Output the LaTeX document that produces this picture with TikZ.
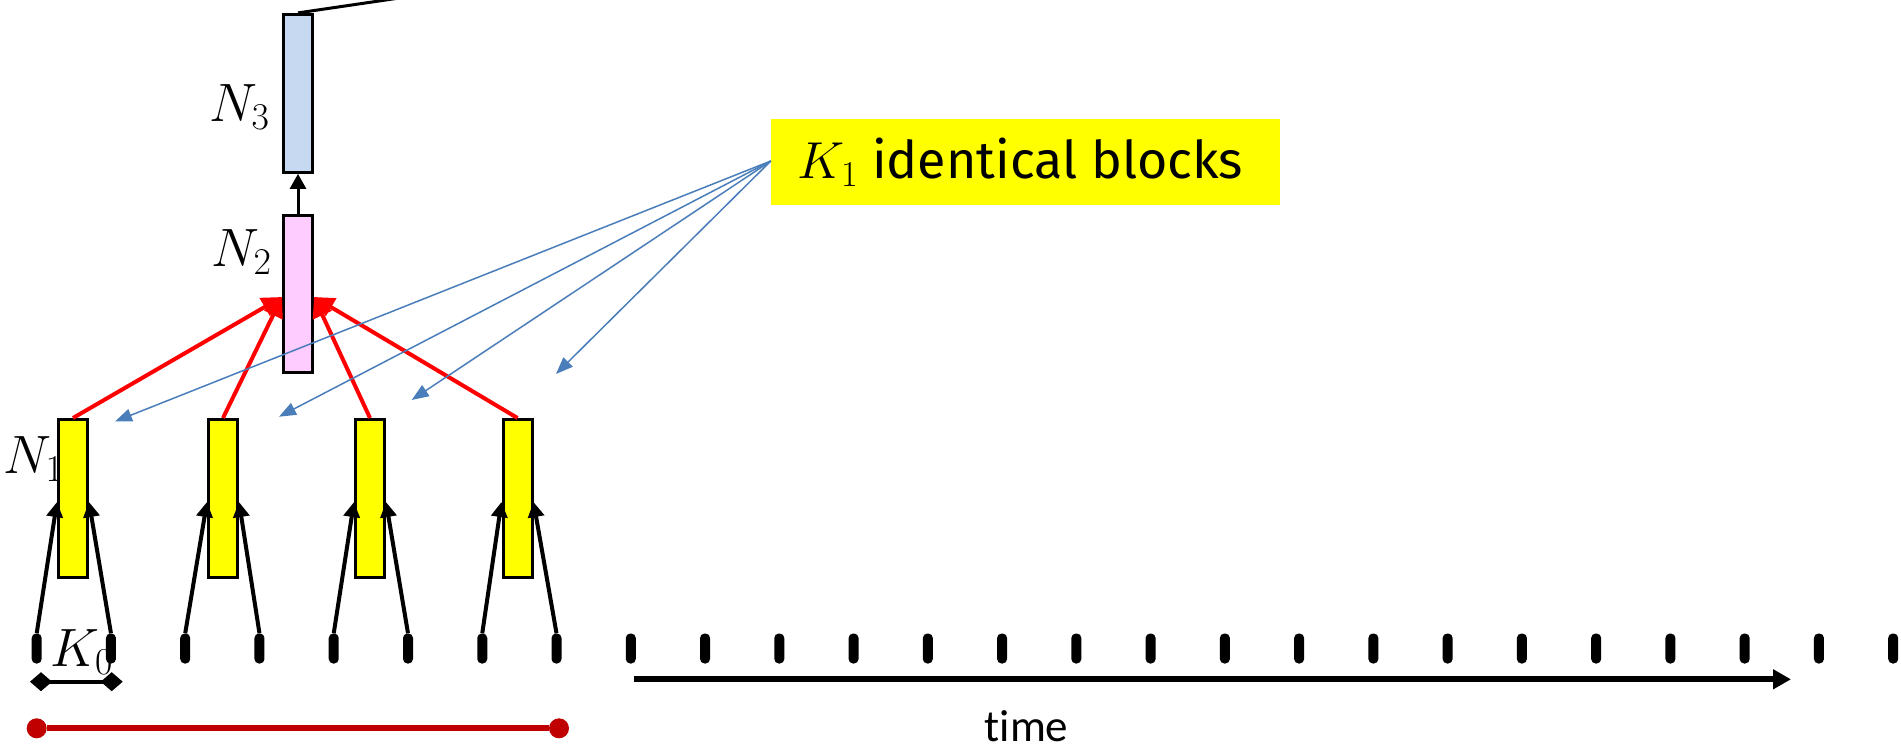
\documentclass[tikz,border=0pt]{standalone}
\usepackage{fix-cm}
\usepackage{fontspec}
\newfontfamily\labfont{Fira Sans}
\newfontfamily\timefont[Ligatures=NoCommon]{Carlito}
\usetikzlibrary{arrows.meta,calc}
\definecolor{blockyellow}{HTML}{FFFF00}
\definecolor{pinkfill}{HTML}{FFCCFF}
\definecolor{bluefill}{HTML}{C6D9F1}
\definecolor{arrowblue}{HTML}{4A7EBB}
\definecolor{darkred}{HTML}{C00000}
\definecolor{brightred}{HTML}{FF0000}
\tikzset{
  blockbox/.style={draw=black, line width=3pt, minimum width=29pt, minimum height=158pt, inner sep=0pt},
  tickmark/.style={fill=black, rounded corners=4.5pt, minimum width=10pt, minimum height=30pt, inner sep=0pt},
  mathlab/.style={inner sep=0pt, anchor=base west, font=\fontsize{54}{64}\selectfont},
  redarrow/.style={draw=brightred, line width=4pt, -{Triangle[length=20pt,width=20pt]}},
  blackarrow/.style={draw=black, line width=4pt, -{Triangle[length=15pt,width=16pt]}},
  bluearrow/.style={draw=arrowblue, line width=1.5pt, -{Triangle[length=17pt,width=13pt]}},
  reddot/.style={circle, fill=darkred, minimum size=20pt, inner sep=0pt},
}
\begin{document}
\begin{tikzpicture}[x=1pt,y=-1pt]
\clip (0,0) rectangle (1901,752);
\fill[white] (0,0) rectangle (1901,752);

% upper blocks
\node[blockbox, fill=bluefill] (N3) at (298,93.4) {};
\node[blockbox, fill=pinkfill, minimum height=157pt] (N2) at (298,294) {};
\node[mathlab] (l3) at (209,121.7) {$N_3$};
\node[mathlab] (l2) at (211,266.7) {$N_2$};

% outgoing line from N3
\coordinate (out) at (430,-6.5);
\draw[line width=3pt] (N3.north) -- (out);
\draw[line width=3pt, -{Triangle[length=15pt,width=16pt]}] (N2.north) -- (N3.south);

% first-level blocks
\node[blockbox, fill=blockyellow] (b1) at (73,498.5) {};
\node[blockbox, fill=blockyellow] (b2) at (223,498.5) {};
\node[blockbox, fill=blockyellow] (b3) at (370,498.5) {};
\node[blockbox, fill=blockyellow] (b4) at (517.5,498.5) {};
\node[mathlab] (l1) at (3,473) {$N_1$};

% ticks
\foreach \i in {0,...,25}
  \node[tickmark] (t\i) at ({36.7+74.26*\i},648.5) {};

% black input arrows
\draw[blackarrow] (t0.north) -- ([yshift=-3.5pt]b1.west);
\draw[blackarrow] (t1.north) -- ([yshift=-3.5pt]b1.east);
\draw[blackarrow] (t2.north) -- ([yshift=-3.5pt]b2.west);
\draw[blackarrow] (t3.north) -- ([yshift=-3.5pt]b2.east);
\draw[blackarrow] (t4.north) -- ([yshift=-3.5pt]b3.west);
\draw[blackarrow] (t5.north) -- ([yshift=-3.5pt]b3.east);
\draw[blackarrow] (t6.north) -- ([yshift=-3.5pt]b4.west);
\draw[blackarrow] (t7.north) -- ([yshift=-3.5pt]b4.east);

% red arrows to N2
\draw[redarrow] (b1.north) -- ([yshift=-3pt]N2.west);
\draw[redarrow] (b2.north) -- ([yshift=-3pt]N2.west);
\draw[redarrow] (b3.north) -- ([yshift=-3pt]N2.east);
\draw[redarrow] (b4.north) -- ([yshift=-3pt]N2.east);

% K0 span
\coordinate (k0a) at (30,681.7);
\coordinate (k0b) at (122.7,681.7);
\draw[line width=4pt, {Diamond[length=22pt,width=19pt]}-{Diamond[length=22pt,width=19pt]}] (k0a) -- (k0b);
\node[mathlab] (l0) at (50,666.7) {$K_0$};

% receptive field line
\node[reddot] (d1) at (36.7,728.3) {};
\node[reddot] (d2) at (559,728.3) {};
\draw[darkred, line width=6pt] (d1) -- (d2);

% time axis
\coordinate (ts) at (634.3,679.3);
\coordinate (te) at (1791,679.3);
\draw[line width=6pt, -{Triangle[length=18pt,width=19pt]}] (ts) -- (te);
\node[inner sep=0pt, anchor=base, font=\timefont\fontsize{45}{54}\selectfont] (tl) at (1026.5,741) {time};

% label box
\node[fill=blockyellow, minimum width=509pt, minimum height=86pt, inner sep=0pt,
      font=\labfont\fontsize{52}{62}\selectfont] (lab) at (1025.5,162) {\hspace*{-10pt}$K_1$ identical blocks};

% blue pointers
\coordinate (p1) at (115,421.5);
\coordinate (p2) at (279,416.7);
\coordinate (p3) at (411.7,400);
\coordinate (p4) at (556,374);
\foreach \p in {p1,p2,p3,p4}
  \draw[bluearrow] ([yshift=1pt]lab.west) -- (\p);
\end{tikzpicture}
\end{document}
